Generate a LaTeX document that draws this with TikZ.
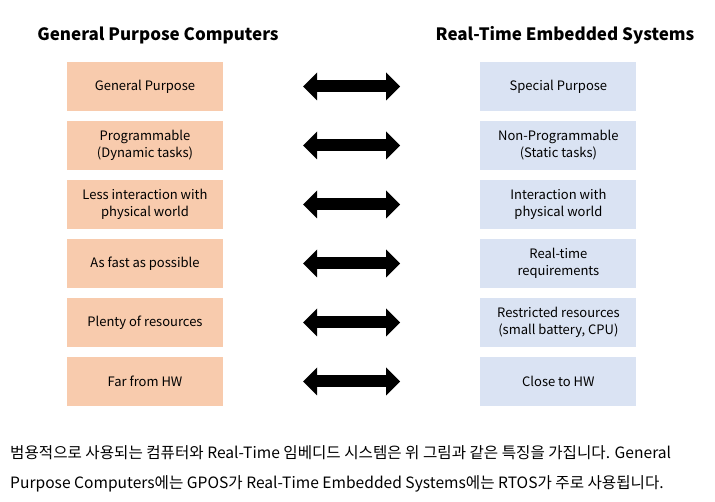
\documentclass[tikz,border=0pt]{standalone}
\usepackage{fontspec}
\setmainfont{Noto Sans CJK KR}
\usetikzlibrary{positioning, arrows.meta}
\definecolor{gpcfill}{HTML}{F8CBAD}
\definecolor{rtsfill}{HTML}{DAE3F3}

\begin{document}
\begin{tikzpicture}[x=1pt, y=-1pt, node distance=9.6pt and 257pt,
    gpc/.style={rectangle, fill=gpcfill, minimum width=156pt, minimum height=49pt, inner sep=2pt, align=center, font=\fontsize{13}{17}\selectfont},
    rts/.style={gpc, fill=rtsfill},
    title/.style={font=\bfseries\fontsize{17}{20}\selectfont},
    note/.style={anchor=west, inner sep=0pt, font=\fontsize{15.6}{18}\selectfont},
    pair/.style={line width=12pt, {Triangle[length=14pt,width=28pt,line width=0pt]}-{Triangle[length=14pt,width=28pt,line width=0pt]}, shorten <=80pt, shorten >=80pt}]
    \useasboundingbox (0,0) rectangle (715,502);

    % Titles
    \node[title] (gpctitle) at (158,35) {General Purpose Computers};
    \node[title] (rtstitle) at (565,35) {Real-Time Embedded Systems};

    % Left column
    \node[gpc] (g1) at (145,86.5) {General Purpose};
    \node[gpc, below=of g1] (g2) {Programmable\\(Dynamic tasks)};
    \node[gpc, below=of g2] (g3) {Less interaction with\\physical world};
    \node[gpc, below=of g3] (g4) {As fast as possible};
    \node[gpc, below=of g4] (g5) {Plenty of resources};
    \node[gpc, below=of g5] (g6) {Far from HW};

    % Right column
    \node[rts, right=of g1] (r1) {Special Purpose};
    \node[rts, right=of g2] (r2) {Non-Programmable\\(Static tasks)};
    \node[rts, right=of g3] (r3) {Interaction with\\physical world};
    \node[rts, right=of g4] (r4) {Real-time\\requirements};
    \node[rts, right=of g5] (r5) {Restricted resources\\(small battery, CPU)};
    \node[rts, right=of g6] (r6) {Close to HW};

    % Arrows
    \foreach \i in {1,...,6}
        \draw[pair] (g\i) -- (r\i);

    % Caption text
    \node[note] (note1) at (10,453) {범용적으로 사용되는 컴퓨터와 Real-Time 임베디드 시스템은 위 그림과 같은 특징을 가집니다. General};
    \node[note] (note2) at (10,484) {Purpose Computers에는 GPOS가 Real-Time Embedded Systems에는 RTOS가 주로 사용됩니다.};

\end{tikzpicture}
\end{document}
